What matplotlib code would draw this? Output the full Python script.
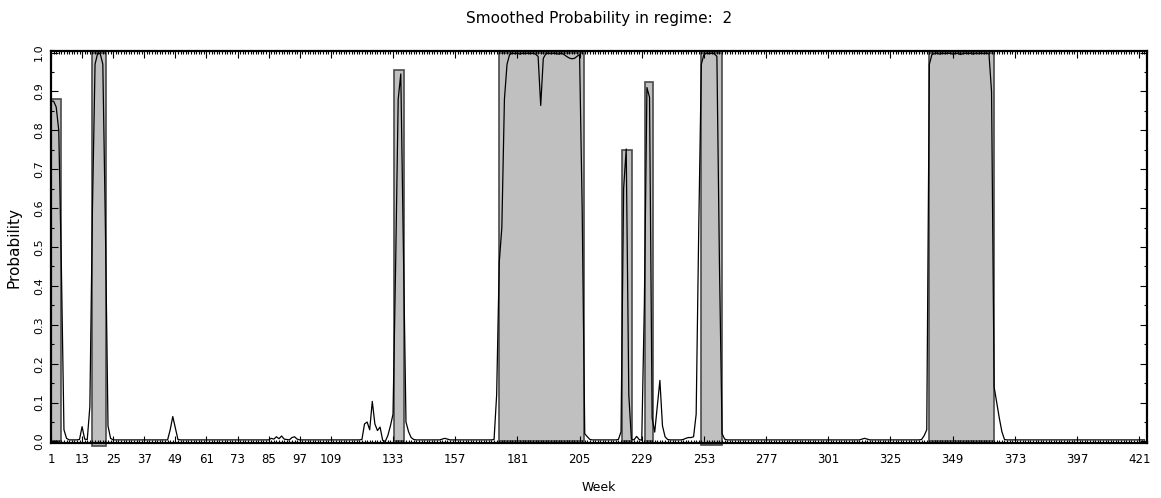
import numpy as np
import matplotlib
matplotlib.use("Agg")
import matplotlib.pyplot as plt
from matplotlib.ticker import MultipleLocator

# ---------------- data ----------------
n_weeks = 423
baseline = 0.004   # quiet weeks sit just above zero

# (first week, smoothed probability for consecutive weeks)
seg_start = [1, 12, 46, 86, 121, 152, 172, 219, 245, 314, 337]
seg_values = [
    [0.875, 0.875, 0.86, 0.80, 0.45, 0.03, 0.008],
    [0.005, 0.038, 0.006, 0.005, 0.09, 0.6, 0.97, 0.998, 0.997, 0.97, 0.55, 0.04, 0.008],
    [0.004, 0.03, 0.064, 0.035, 0.005],
    [0.008, 0.006, 0.012, 0.007, 0.014, 0.006, 0.005, 0.004, 0.01, 0.012, 0.006],
    [0.005, 0.045, 0.05, 0.03, 0.103, 0.045, 0.028, 0.037, 0.003, 0.0, 0.015,
     0.04, 0.07, 0.45, 0.88, 0.945, 0.5, 0.05, 0.025, 0.01, 0.005],
    [0.006, 0.008, 0.006],
    [0.005, 0.12, 0.46, 0.55, 0.88, 0.97, 0.995, 0.998, 0.997, 0.998, 0.996, 0.998,
     0.997, 0.998, 0.997, 0.998, 0.996, 0.99, 0.864, 0.985, 0.997, 0.998, 0.997,
     0.998, 0.997, 0.996, 0.998, 0.995, 0.99, 0.986, 0.984, 0.985, 0.99, 0.995,
     0.6, 0.02, 0.012, 0.005],
    [0.004, 0.005, 0.025, 0.65, 0.752, 0.12, 0.006, 0.004, 0.013, 0.005, 0.003,
     0.35, 0.91, 0.885, 0.06, 0.024, 0.09, 0.157, 0.04, 0.012, 0.005],
    [0.005, 0.008, 0.01, 0.01, 0.012, 0.07, 0.55, 0.97, 0.995, 0.998, 0.997, 0.998,
     0.997, 0.99, 0.45, 0.02, 0.006],
    [0.006, 0.008, 0.006],
    [0.005, 0.015, 0.03, 0.97, 0.995, 0.997, 0.998, 0.996, 0.998, 0.997, 0.998,
     0.998, 0.996, 0.997, 0.998, 0.995, 0.997, 0.998, 0.997, 0.998, 0.996, 0.998,
     0.997, 0.998, 0.997, 0.998, 0.997, 0.9, 0.14, 0.1, 0.06, 0.025, 0.005],
]

# shaded regime blocks
bar_start = [1.0, 16.9, 133.5, 174.0, 221.5, 230.1, 251.8, 340.0]
bar_end = [4.7, 22.3, 137.2, 206.7, 225.1, 233.3, 260.0, 365.0]
bar_top = [0.88, 1.0, 0.955, 1.0, 0.75, 0.925, 1.0, 1.0]
bar_bottom = [0.0, -0.012, 0.0, 0.0, 0.0, 0.0, -0.008, 0.0]

week_ticks = [1, 13, 25, 37, 49, 61, 73, 85, 97, 109, 133, 157, 181, 205,
              229, 253, 277, 301, 325, 349, 373, 397, 421]
prob_ticks = [round(0.1 * i, 1) for i in range(11)]

weeks = np.arange(1, n_weeks + 1)
prob = np.full(n_weeks, baseline)
for s, vals in zip(seg_start, seg_values):
    prob[s - 1:s - 1 + len(vals)] = vals

# ---------------- plot ----------------
fig = plt.figure(figsize=(11.61, 4.98), dpi=100)
ax = fig.add_axes([51 / 1161, 55 / 498, 1096 / 1161, 392 / 498])

widths = np.array(bar_end) - np.array(bar_start)
heights = np.array(bar_top) - np.array(bar_bottom)
ax.bar(bar_start, heights, width=widths, bottom=bar_bottom, align="edge",
       color="#c0c0c0", edgecolor="#4a4a4a", linewidth=1.2, zorder=1, clip_on=False)
ax.plot(weeks, prob, color="black", linewidth=0.9, zorder=2)

ax.set_xlim(1, 424)
ax.set_ylim(-0.004, 1.004)

ax.set_xticks(week_ticks)
ax.set_xticklabels([str(w) for w in week_ticks], fontsize=8.5)
ax.xaxis.set_minor_locator(MultipleLocator(1))
ax.set_yticks(prob_ticks)
ax.set_yticklabels([f"{p:.1f}" for p in prob_ticks], fontsize=8, rotation=90, va="center")
ax.yaxis.set_minor_locator(MultipleLocator(0.05))

ax.tick_params(which="both", direction="in", top=True, right=True, width=0.8)
ax.tick_params(which="major", length=5)
ax.tick_params(which="minor", length=2.5)
ax.tick_params(axis="x", which="major", pad=7)
ax.tick_params(axis="y", which="major", pad=5)

for sp in ax.spines.values():
    sp.set_linewidth(1.6)

ax.set_xlabel("Week", fontsize=9, labelpad=11)
ax.set_ylabel("Probability", fontsize=11, labelpad=9)
fig.text(599 / 1161, 1 - 19 / 498, "Smoothed Probability in regime:  2",
         ha="center", va="center", fontsize=11)

fig.savefig("out.png", dpi=100)
